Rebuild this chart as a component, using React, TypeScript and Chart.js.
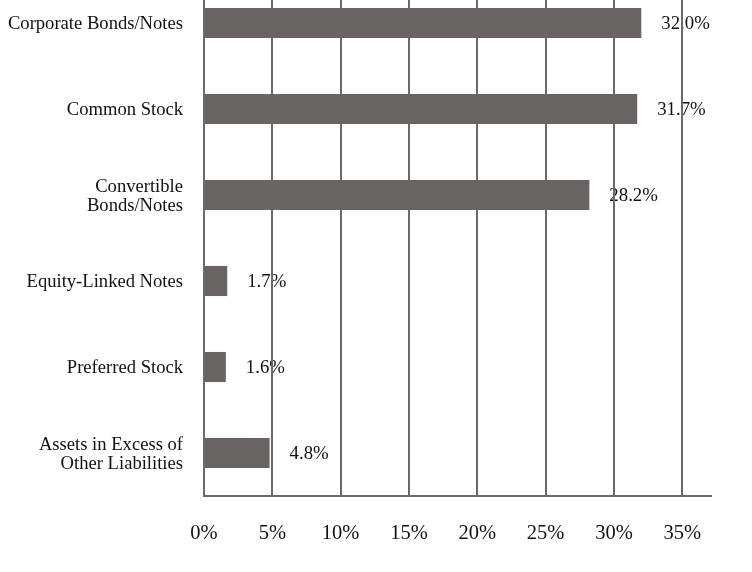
import React, { useEffect, useRef } from "react";
import { Chart, registerables } from "chart.js";

Chart.register(...registerables);

const categories: (string | string[])[] = [
  "Corporate Bonds/Notes",
  "Common Stock",
  ["Convertible", "Bonds/Notes"],
  "Equity-Linked Notes",
  "Preferred Stock",
  ["Assets in Excess of", "Other Liabilities"],
];
const values: number[] = [32.0, 31.7, 28.2, 1.7, 1.6, 4.8];
const valueLabels: string[] = ["32.0%", "31.7%", "28.2%", "1.7%", "1.6%", "4.8%"];
const xTicks: number[] = [0, 5, 10, 15, 20, 25, 30, 35];

const FONT = '"Liberation Serif", "Times New Roman", serif';

const valueLabelPlugin = {
  id: "valueLabels",
  beforeDraw(chart: any) {
    const ctx = chart.ctx;
    const meta = chart.getDatasetMeta(0);
    ctx.save();
    ctx.font = `18.8px ${FONT}`;
    ctx.fillStyle = "#111111";
    ctx.textAlign = "left";
    ctx.textBaseline = "middle";
    meta.data.forEach((bar: any, i: number) => {
      ctx.fillText(valueLabels[i], bar.x + 20, bar.y + 1);
    });
    ctx.restore();
  },
};

export default function App() {
  const ref = useRef<HTMLCanvasElement>(null);
  useEffect(() => {
    if (!ref.current) return;
    const chart = new Chart(ref.current, {
      type: "bar",
      data: {
        labels: categories,
        datasets: [
          {
            data: values,
            backgroundColor: "#686463",
            borderWidth: 0,
            barPercentage: 0.35,
            categoryPercentage: 1,
          },
        ],
      },
      options: {
        indexAxis: "y",
        animation: false,
        responsive: false,
        maintainAspectRatio: false,
        layout: { padding: { top: 0, right: 41, left: 0, bottom: 0 } },
        plugins: {
          legend: { display: false },
          tooltip: { enabled: false },
        },
        scales: {
          x: {
            type: "linear",
            min: 0,
            max: 37.1,
            afterBuildTicks: (scale: any) => {
              scale.ticks = xTicks.map((v) => ({ value: v }));
            },
            afterFit: (scale: any) => {
              scale.height = 76;
              scale.paddingLeft = 0;
              scale.paddingRight = 0;
            },
            grid: {
              color: "#6a6a6a",
              lineWidth: 2,
              drawTicks: false,
            },
            border: { display: true, color: "#6a6a6a", width: 2 },
            ticks: {
              padding: 25,
              color: "#111111",
              font: { family: FONT, size: 20.5 },
              callback: (v: any) => v + "%",
              maxRotation: 0,
            },
          },
          y: {
            type: "category",
            afterFit: (scale: any) => {
              scale.width = 204;
              scale.paddingTop = 0;
              scale.paddingBottom = 0;
            },
            grid: { display: false, drawTicks: false },
            border: { display: true, color: "#6a6a6a", width: 2 },
            ticks: {
              padding: 21,
              labelOffset: 1.5,
              color: "#111111",
              font: { family: FONT, size: 18.6, lineHeight: 1.0 },
            },
          },
        },
      },
      plugins: [valueLabelPlugin],
    });
    return () => chart.destroy();
  }, []);
  return (
    <div style={{ position: "fixed", left: 0, top: -20, width: 752, height: 592 }}>
      <canvas ref={ref} width={752} height={592} style={{ width: 752, height: 592 }} />
    </div>
  );
}
